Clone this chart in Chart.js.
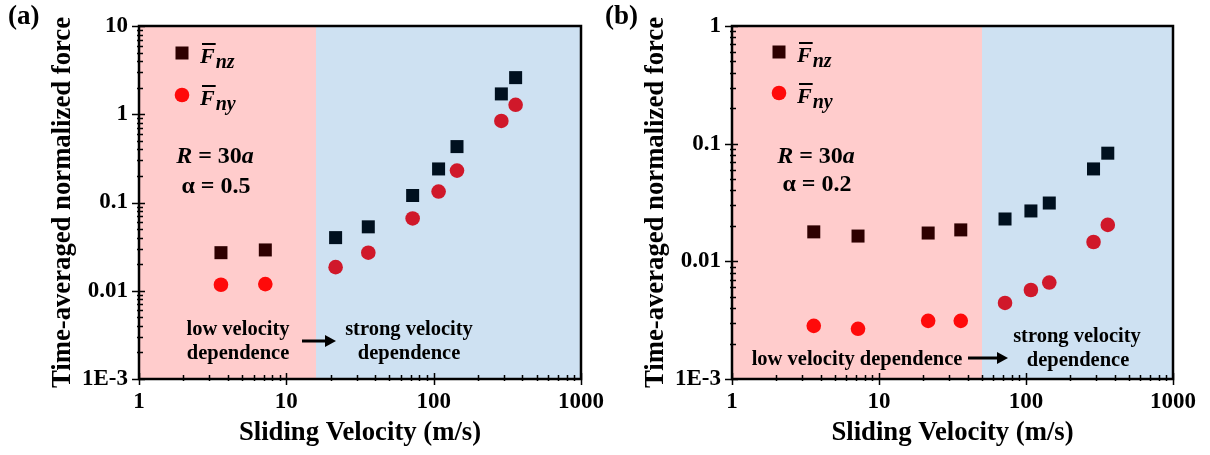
<!DOCTYPE html>
<html>
<head>
<meta charset="utf-8">
<script src="https://cdn.jsdelivr.net/npm/chart.js@4"></script>
<style>
  body { margin: 0; background: #fff; }
  #wrapA { position: absolute; left: 0; top: 0; width: 620px; height: 455px; }
  #wrapB { position: absolute; left: 600px; top: 0; width: 610px; height: 455px; }
</style>
</head>
<body>
<div id="wrapA"><canvas id="chartA" width="620" height="455"></canvas></div>
<div id="wrapB"><canvas id="chartB" width="610" height="455"></canvas></div>
<script>
// sliding velocity (m/s), same for both panels
const velocity = [3.6, 7.2, 21.6, 36, 72, 108, 144, 288, 360];

// panel (a): R = 30a, alpha = 0.5
const fnzA = [0.027, 0.029, 0.040, 0.053, 0.12, 0.24, 0.43, 1.7, 2.6];
const fnyA = [0.0117, 0.0119, 0.0185, 0.027, 0.066, 0.133, 0.23, 0.84, 1.28];

// panel (b): R = 30a, alpha = 0.2
const fnzB = [0.0178, 0.0164, 0.0174, 0.0185, 0.0229, 0.0268, 0.0313, 0.061, 0.083];
const fnyB = [0.00283, 0.00267, 0.00312, 0.00312, 0.00443, 0.00571, 0.0066, 0.0146, 0.0204];

// where the low / strong velocity dependence regions meet
const splitA = 16;
const splitB = 50;

const xTickVals = [1, 10, 100, 1000];
const xTickLabels = ['1', '10', '100', '1000'];
const yTickValsA = [0.001, 0.01, 0.1, 1, 10];
const yTickLabelsA = ['1E-3', '0.01', '0.1', '1', '10'];
const yTickValsB = [0.001, 0.01, 0.1, 1];
const yTickLabelsB = ['1E-3', '0.01', '0.1', '1'];

const SERIF = '"Liberation Serif", "Times New Roman", serif';
const PINK = '#FFCCCC';
const BLUE = '#CEE1F2';

function pts(ys) {
  return velocity.map((v, i) => ({ x: v, y: ys[i] }));
}

function drawF(ctx, x, base, sub) {
  ctx.font = 'bold italic 22px ' + SERIF;
  ctx.textAlign = 'left';
  ctx.textBaseline = 'alphabetic';
  ctx.fillText('F', x, base);
  const w = ctx.measureText('F').width;
  ctx.fillRect(x + 2, base - 20, w - 1, 2);
  ctx.font = 'bold italic 20px ' + SERIF;
  ctx.fillText(sub, x + w + 1, base + 5);
}

function drawRich(ctx, parts, cx, base) {
  let total = 0;
  parts.forEach(p => {
    ctx.font = (p.it ? 'bold italic ' : 'bold ') + '24px ' + SERIF;
    p.w = ctx.measureText(p.t).width;
    total += p.w;
  });
  let x = cx - total / 2;
  ctx.textAlign = 'left';
  parts.forEach(p => {
    ctx.font = (p.it ? 'bold italic ' : 'bold ') + '24px ' + SERIF;
    ctx.fillText(p.t, x, base);
    x += p.w;
  });
}

function arrow(ctx, x1, x2, y) {
  ctx.save();
  ctx.strokeStyle = '#000';
  ctx.fillStyle = '#000';
  ctx.lineWidth = 3;
  ctx.beginPath();
  ctx.moveTo(x1, y);
  ctx.lineTo(x2 - 9, y);
  ctx.stroke();
  ctx.beginPath();
  ctx.moveTo(x2, y);
  ctx.lineTo(x2 - 11, y - 6);
  ctx.lineTo(x2 - 11, y + 6);
  ctx.closePath();
  ctx.fill();
  ctx.restore();
}

function makePanel(id, o) {
  const panelPlugin = {
    id: 'panel',
    beforeDatasetsDraw(chart) {
      const { ctx, chartArea: a, scales: { x } } = chart;
      const sx = Math.round(x.getPixelForValue(o.split));
      ctx.save();
      ctx.fillStyle = BLUE;
      ctx.fillRect(a.left, a.top, a.right - a.left, a.bottom - a.top);
      ctx.fillStyle = PINK;
      ctx.fillRect(a.left, a.top, sx - a.left, a.bottom - a.top);
      ctx.restore();
    },
    afterDraw(chart) {
      const { ctx, chartArea: a, scales: { x, y } } = chart;
      ctx.save();
      // frame
      ctx.strokeStyle = '#000';
      ctx.lineWidth = 2.5;
      ctx.strokeRect(a.left, a.top, a.right - a.left, a.bottom - a.top);
      // log ticks on bottom and left axes
      ctx.lineWidth = 1.5;
      ctx.beginPath();
      for (let d = 1; d <= 1000; d *= 10) {
        for (let m = 1; m < 10; m++) {
          const v = d * m;
          if (v > 1000) break;
          const px = Math.round(x.getPixelForValue(v)) + 0.5;
          if (m === 1) { ctx.moveTo(px, a.bottom - 6); ctx.lineTo(px, a.bottom + 6); }
          else { ctx.moveTo(px, a.bottom - 4); ctx.lineTo(px, a.bottom + 2); }
        }
      }
      const yMax = y.max;
      for (let d = y.min; d <= yMax * 1.0001; d *= 10) {
        for (let m = 1; m < 10; m++) {
          const v = d * m;
          if (v > yMax * 1.0001) break;
          const py = Math.round(y.getPixelForValue(v)) + 0.5;
          if (m === 1) { ctx.moveTo(a.left - 7, py); ctx.lineTo(a.left + 6, py); }
          else { ctx.moveTo(a.left - 2, py); ctx.lineTo(a.left + 4, py); }
        }
      }
      ctx.stroke();

      ctx.fillStyle = '#000';
      // panel label
      ctx.font = 'bold 27px ' + SERIF;
      ctx.textAlign = 'left';
      ctx.textBaseline = 'alphabetic';
      ctx.fillText(o.label, o.labelX, 24);

      // legend
      const L = o.legend;
      ctx.fillStyle = o.sqPink;
      ctx.fillRect(L.mx - 6.5, L.y1 - 6.5, 13, 13);
      ctx.fillStyle = o.cirPink;
      ctx.beginPath();
      ctx.arc(L.mx, L.y2, 7.3, 0, Math.PI * 2);
      ctx.fill();
      ctx.fillStyle = '#000';
      drawF(ctx, L.tx, L.y1 + 10, 'nz');
      drawF(ctx, L.tx, L.y2 + 10, 'ny');

      // parameters
      ctx.textBaseline = 'alphabetic';
      drawRich(ctx, [{ t: 'R', it: true }, { t: ' = 30', it: false }, { t: 'a', it: true }], o.paramX, o.paramY1);
      drawRich(ctx, [{ t: o.alpha, it: false }], o.paramX + 1, o.paramY2);

      // region notes
      ctx.font = 'bold 20.5px ' + SERIF;
      ctx.textAlign = 'center';
      ctx.textBaseline = 'middle';
      o.notes.forEach(n => ctx.fillText(n.t, n.x, n.y));
      arrow(ctx, o.arrow[0], o.arrow[1], o.arrow[2]);
      ctx.restore();
    }
  };

  const colorBy = (pinkC, blueC) => c => (c.raw && c.raw.x < o.split ? pinkC : blueC);

  return new Chart(document.getElementById(id), {
    type: 'scatter',
    data: {
      datasets: [
        {
          label: 'Fnz',
          data: pts(o.fnz),
          pointStyle: 'rect',
          pointRadius: 9.2,
          pointBorderWidth: 0,
          backgroundColor: colorBy(o.sqPink, '#00101F'),
          borderColor: 'rgba(0,0,0,0)'
        },
        {
          label: 'Fny',
          data: pts(o.fny),
          pointStyle: 'circle',
          pointRadius: 7.3,
          pointBorderWidth: 0,
          backgroundColor: colorBy(o.cirPink, '#D0182A'),
          borderColor: 'rgba(0,0,0,0)'
        }
      ]
    },
    options: {
      responsive: false,
      animation: false,
      events: [],
      layout: { padding: o.padding },
      plugins: { legend: { display: false }, tooltip: { enabled: false } },
      scales: {
        x: {
          type: 'logarithmic',
          min: 1,
          max: 1000,
          grid: { display: false, drawTicks: false },
          border: { display: false },
          afterBuildTicks: s => { s.ticks = xTickVals.map(v => ({ value: v })); },
          afterFit: s => { s.height = 76; s.paddingLeft = 0; s.paddingRight = 0; },
          ticks: {
            autoSkip: false,
            maxRotation: 0,
            padding: 9,
            color: '#000',
            font: { family: SERIF, size: 23, weight: 'bold' },
            callback: v => xTickLabels[xTickVals.indexOf(v)]
          },
          title: {
            display: true,
            text: 'Sliding Velocity (m/s)',
            color: '#000',
            font: { family: SERIF, size: 26.7, weight: 'bold' },
            padding: { top: 0, bottom: 6 }
          }
        },
        y: {
          type: 'logarithmic',
          min: o.yTicks[0],
          max: o.yTicks[o.yTicks.length - 1],
          grid: { display: false, drawTicks: false },
          border: { display: false },
          afterBuildTicks: s => { s.ticks = o.yTicks.map(v => ({ value: v })); },
          afterFit: s => { s.width = o.yWidth; s.paddingTop = 0; s.paddingBottom = 0; },
          ticks: {
            autoSkip: false,
            padding: 11,
            color: '#000',
            font: { family: SERIF, size: 23, weight: 'bold' },
            callback: v => o.yLabels[o.yTicks.indexOf(v)]
          },
          title: {
            display: true,
            text: 'Time-averaged normalized force',
            color: '#000',
            font: { family: SERIF, size: 26.7, weight: 'bold' },
            padding: { top: o.titlePad, bottom: 0 }
          }
        }
      }
    },
    plugins: [panelPlugin]
  });
}

makePanel('chartA', {
  fnz: fnzA, fny: fnyA, split: splitA,
  yTicks: yTickValsA, yLabels: yTickLabelsA,
  padding: { left: 40, top: 26, right: 39, bottom: 0 },
  yWidth: 99, titlePad: 7,
  label: '(a)', labelX: 8,
  sqPink: '#2E0000', cirPink: '#FF0A0A',
  legend: { mx: 182, y1: 53, y2: 95, tx: 200 },
  paramX: 215, paramY1: 163, paramY2: 193, alpha: '\u03B1 = 0.5',
  notes: [
    { t: 'low velocity', x: 238, y: 330 },
    { t: 'dependence', x: 238, y: 354 },
    { t: 'strong velocity', x: 409, y: 330 },
    { t: 'dependence', x: 409, y: 354 }
  ],
  arrow: [302, 336, 341]
});

makePanel('chartB', {
  fnz: fnzB, fny: fnyB, split: splitB,
  yTicks: yTickValsB, yLabels: yTickLabelsB,
  padding: { left: 30, top: 26, right: 37, bottom: 0 },
  yWidth: 102, titlePad: 10,
  label: '(b)', labelX: 5,
  sqPink: '#2E0000', cirPink: '#FF0A0A',
  legend: { mx: 179, y1: 52, y2: 93, tx: 197 },
  paramX: 216, paramY1: 163, paramY2: 191, alpha: '\u03B1 = 0.2',
  notes: [
    { t: 'low velocity dependence', x: 257, y: 360 },
    { t: 'strong velocity', x: 477, y: 337 },
    { t: 'dependence', x: 478, y: 361 }
  ],
  arrow: [368, 408, 358]
});
</script>
</body>
</html>
